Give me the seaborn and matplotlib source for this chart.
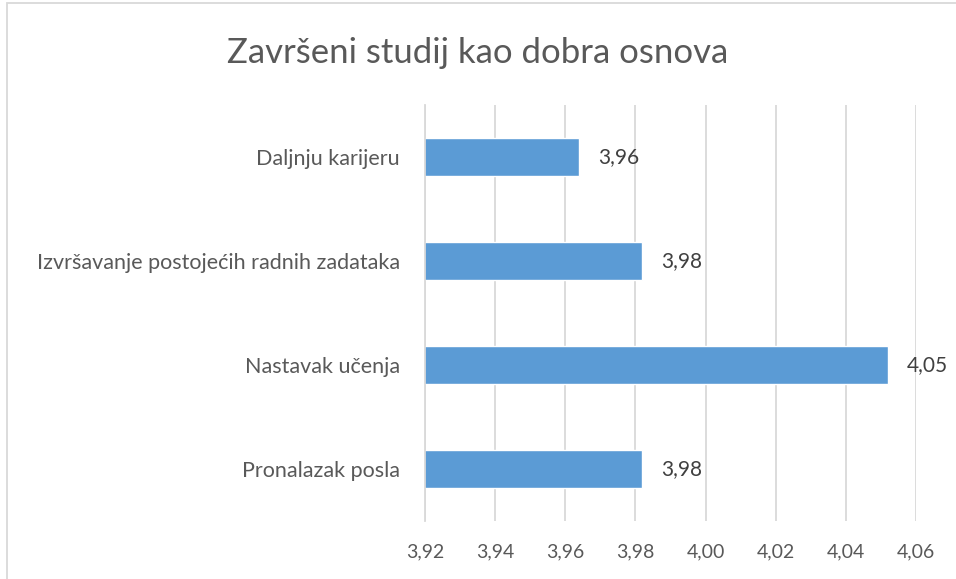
import matplotlib
matplotlib.use("Agg")
import matplotlib.pyplot as plt
import seaborn as sns
import pandas as pd
from matplotlib.patches import Rectangle
from matplotlib.ticker import FuncFormatter, FixedLocator

# podaci
kategorije = ["Daljnju karijeru",
              "Izvršavanje postojećih radnih zadataka",
              "Nastavak učenja",
              "Pronalazak posla"]
vrijednosti = [3.964, 3.982, 4.052, 3.982]
oznake = ["3,96", "3,98", "4,05", "3,98"]
x_ticks = [3.92, 3.94, 3.96, 3.98, 4.00, 4.02, 4.04, 4.06]

df = pd.DataFrame({"kategorija": kategorije, "vrijednost": vrijednosti})

sns.set_style("white")
plt.rcParams["font.family"] = ["Lato", "DejaVu Sans"]

fig = plt.figure(figsize=(9.56, 5.79), dpi=100)
ax = fig.add_axes([0.4446, 0.1002, 0.5136, 0.7185])

sns.barplot(data=df, x="vrijednost", y="kategorija", orient="h",
            color="#5B9BD5", saturation=1, width=0.36, ax=ax)

ax.set_xlim(3.92, 4.06)
ax.set_xticks(x_ticks)
ax.xaxis.set_major_formatter(FuncFormatter(lambda v, p: f"{v:.2f}".replace(".", ",")))
ax.grid(axis="x", color="#D9D9D9", linewidth=1.3)
ax.set_axisbelow(True)
ax.set_xlabel("")
ax.set_ylabel("")
for s in ["top", "right", "bottom"]:
    ax.spines[s].set_visible(False)
ax.spines["left"].set_color("#D9D9D9")
ax.spines["left"].set_linewidth(1.3)

ax.tick_params(axis="x", length=0, pad=16, labelsize=14, labelcolor="#595959")
ax.tick_params(axis="y", which="major", length=0, pad=18, labelsize=15.5, labelcolor="#595959")
ax.yaxis.set_minor_locator(FixedLocator([0.5, 1.5, 2.5, 3.5]))
ax.tick_params(axis="y", which="minor", length=6, width=1.3, color="#D9D9D9")

for p, txt in zip(ax.patches, oznake):
    ax.text(p.get_width() + p.get_x() + 0.0053, p.get_y() + p.get_height() / 2, txt,
            va="center", ha="left", fontsize=15, color="#404040")

fig.text(0.5, 0.908, "Završeni studij kao dobra osnova", ha="center", va="center",
         fontsize=25, color="#595959")

# okvir grafikona
fig.patches.append(Rectangle((7 / 956, -0.1), 1.2, 1.1 - 3 / 579,
                             transform=fig.transFigure, fill=False,
                             edgecolor="#D9D9D9", linewidth=1.3))

fig.savefig("out.png", dpi=100)
